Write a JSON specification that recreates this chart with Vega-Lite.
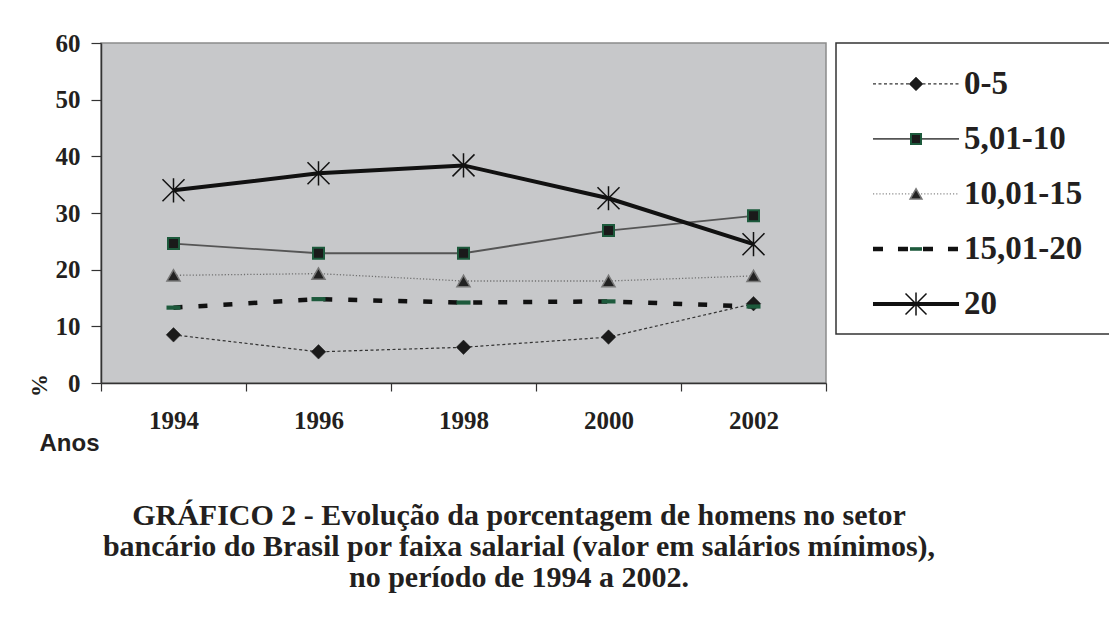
{
  "$schema": "https://vega.github.io/schema/vega-lite/v6.json",
  "background": "white",
  "padding": {"left": 27, "top": 30, "right": 0, "bottom": 0},
  "bounds": "flush",
  "spacing": 10,
  "title": {
    "text": ["GRÁFICO 2 - Evolução da porcentagem de homens no setor", "bancário do Brasil por faixa salarial (valor em salários mínimos),", "no período de 1994 a 2002."],
    "orient": "bottom",
    "anchor": "middle",
    "font": "Liberation Serif",
    "fontSize": 30,
    "fontWeight": "bold",
    "color": "#231f20",
    "lineHeight": 31,
    "offset": 45,
    "dx": -50
  },
  "datasets": {
    "pct": [
      {"series": "0-5", "year": "1994", "value": 8.5},
      {"series": "0-5", "year": "1996", "value": 5.5},
      {"series": "0-5", "year": "1998", "value": 6.3},
      {"series": "0-5", "year": "2000", "value": 8.1},
      {"series": "0-5", "year": "2002", "value": 14.0},
      {"series": "5,01-10", "year": "1994", "value": 24.6},
      {"series": "5,01-10", "year": "1996", "value": 22.9},
      {"series": "5,01-10", "year": "1998", "value": 22.9},
      {"series": "5,01-10", "year": "2000", "value": 26.9},
      {"series": "5,01-10", "year": "2002", "value": 29.5},
      {"series": "10,01-15", "year": "1994", "value": 19.0},
      {"series": "10,01-15", "year": "1996", "value": 19.3},
      {"series": "10,01-15", "year": "1998", "value": 18.0},
      {"series": "10,01-15", "year": "2000", "value": 18.0},
      {"series": "10,01-15", "year": "2002", "value": 18.9},
      {"series": "15,01-20", "year": "1994", "value": 13.3},
      {"series": "15,01-20", "year": "1996", "value": 14.8},
      {"series": "15,01-20", "year": "1998", "value": 14.2},
      {"series": "15,01-20", "year": "2000", "value": 14.4},
      {"series": "15,01-20", "year": "2002", "value": 13.5},
      {"series": "20", "year": "1994", "value": 34.0},
      {"series": "20", "year": "1996", "value": 37.0},
      {"series": "20", "year": "1998", "value": 38.4},
      {"series": "20", "year": "2000", "value": 32.6},
      {"series": "20", "year": "2002", "value": 24.5}
    ],
    "faixas": [
      {"series": "0-5"},
      {"series": "5,01-10"},
      {"series": "10,01-15"},
      {"series": "15,01-20"},
      {"series": "20"}
    ]
  },
  "hconcat": [
    {
      "width": 725,
      "height": 340,
      "view": {"fill": "#c7c8ca", "stroke": "#8c8c8c", "strokeWidth": 1.5},
      "data": {"name": "pct"},
      "encoding": {
        "x": {
          "field": "year", "type": "ordinal", "bandPosition": 0.5,
          "scale": {"type": "band", "paddingInner": 0, "paddingOuter": 0},
          "axis": {
            "title": "Anos", "titleFont": "Liberation Sans", "titleFontSize": 24, "titleFontWeight": "bold", "titleColor": "#231f20",
            "titleX": -2, "titleY": 67, "titleAlign": "right", "titleBaseline": "alphabetic", "titleAnchor": null,
            "tickBand": "extent", "tickSize": 8, "tickColor": "#333333", "tickWidth": 1.2,
            "domainColor": "#333333", "domainWidth": 1.5,
            "labelAngle": 0, "labelFont": "Liberation Serif", "labelFontSize": 25, "labelFontWeight": "bold", "labelColor": "#231f20", "labelPadding": 17
          }
        },
        "y": {
          "field": "value", "type": "quantitative",
          "scale": {"domain": [0, 60], "nice": false, "zero": true},
          "axis": {
            "values": [0, 10, 20, 30, 40, 50, 60], "grid": false,
            "title": "%", "titleFont": "Liberation Serif", "titleFontSize": 23, "titleFontWeight": "bold", "titleColor": "#231f20",
            "titleX": -62, "titleY": 342, "titleAlign": "center", "titleBaseline": "middle", "titleAngle": 270,
            "tickSize": 10, "tickColor": "#333333", "tickWidth": 1.2,
            "domainColor": "#333333", "domainWidth": 1.5,
            "labelFont": "Liberation Serif", "labelFontSize": 25, "labelFontWeight": "bold", "labelColor": "#231f20", "labelPadding": 11
          }
        }
      },
      "layer": [
        {
          "transform": [{"filter": "datum.series === '0-5'"}],
          "mark": {"type": "line", "stroke": "#333333", "strokeWidth": 1.2, "strokeDash": [3, 2.5],
            "point": {"shape": "diamond", "size": 210, "filled": true, "fill": "#1a1a1a", "stroke": "#1a1a1a", "strokeWidth": 0.5}}
        },
        {
          "transform": [{"filter": "datum.series === '5,01-10'"}],
          "mark": {"type": "line", "stroke": "#555555", "strokeWidth": 1.8,
            "point": {"shape": "square", "size": 121, "filled": true, "fill": "#1a1a1a", "stroke": "#1d5a3c", "strokeWidth": 2}}
        },
        {
          "transform": [{"filter": "datum.series === '10,01-15'"}],
          "mark": {"type": "line", "stroke": "#707070", "strokeWidth": 1.3, "strokeDash": [1.2, 2],
            "point": {"shape": "triangle-up", "size": 170, "filled": true, "fill": "#222222", "stroke": "#777777", "strokeWidth": 1.5}}
        },
        {
          "transform": [{"filter": "datum.series === '15,01-20'"}],
          "mark": {"type": "line", "stroke": "#111111", "strokeWidth": 4.5, "strokeDash": [9, 16],
            "point": {"shape": "M-1,-0.3L1,-0.3L1,0.3L-1,0.3Z", "size": 196, "filled": true, "fill": "#1d5a3c", "strokeWidth": 0}}
        },
        {
          "transform": [{"filter": "datum.series === '20'"}],
          "mark": {"type": "line", "stroke": "#111111", "strokeWidth": 4,
            "point": {"shape": "M-1,-1L1,1M-1,1L1,-1M0,-1.1L0,1.1", "size": 484, "filled": false, "fill": "transparent", "stroke": "#111111", "strokeWidth": 1.5}}
        }
      ]
    },
    {
      "width": 274,
      "height": 291,
      "view": {"fill": "white", "stroke": "#333333", "strokeWidth": 1.5},
      "data": {"name": "faixas"},
      "encoding": {
        "y": {
          "field": "series", "type": "ordinal",
          "sort": ["0-5", "5,01-10", "10,01-15", "15,01-20", "20"],
          "scale": {"type": "point", "padding": 0.645, "align": 0.577},
          "axis": null
        }
      },
      "layer": [
        {
          "transform": [{"filter": "datum.series === '0-5'"}],
          "mark": {"type": "rule", "stroke": "#333333", "strokeWidth": 1.2, "strokeDash": [3, 2.5]},
          "encoding": {"x": {"datum": 0.135, "type": "quantitative", "scale": {"domain": [0, 1]}, "axis": null}, "x2": {"datum": 0.449}}
        },
        {
          "transform": [{"filter": "datum.series === '5,01-10'"}],
          "mark": {"type": "rule", "stroke": "#555555", "strokeWidth": 1.8},
          "encoding": {"x": {"datum": 0.135, "type": "quantitative"}, "x2": {"datum": 0.449}}
        },
        {
          "transform": [{"filter": "datum.series === '10,01-15'"}],
          "mark": {"type": "rule", "stroke": "#8a8a8a", "strokeWidth": 1.2, "strokeDash": [1.2, 2]},
          "encoding": {"x": {"datum": 0.135, "type": "quantitative"}, "x2": {"datum": 0.449}}
        },
        {
          "transform": [{"filter": "datum.series === '15,01-20'"}],
          "mark": {"type": "rule", "stroke": "#111111", "strokeWidth": 4.5, "strokeDash": [10, 15]},
          "encoding": {"x": {"datum": 0.135, "type": "quantitative"}, "x2": {"datum": 0.449}}
        },
        {
          "transform": [{"filter": "datum.series === '20'"}],
          "mark": {"type": "rule", "stroke": "#111111", "strokeWidth": 4},
          "encoding": {"x": {"datum": 0.135, "type": "quantitative"}, "x2": {"datum": 0.449}}
        },
        {
          "transform": [{"filter": "datum.series === '0-5'"}],
          "mark": {"type": "point", "shape": "diamond", "size": 190, "filled": true, "fill": "#1a1a1a", "stroke": "#1a1a1a", "strokeWidth": 0.5, "opacity": 1},
          "encoding": {"x": {"datum": 0.292, "type": "quantitative"}}
        },
        {
          "transform": [{"filter": "datum.series === '5,01-10'"}],
          "mark": {"type": "point", "shape": "square", "size": 100, "filled": true, "fill": "#1a1a1a", "stroke": "#1d5a3c", "strokeWidth": 2, "opacity": 1},
          "encoding": {"x": {"datum": 0.292, "type": "quantitative"}}
        },
        {
          "transform": [{"filter": "datum.series === '10,01-15'"}],
          "mark": {"type": "point", "shape": "triangle-up", "size": 140, "filled": true, "fill": "#222222", "stroke": "#777777", "strokeWidth": 1.5, "opacity": 1},
          "encoding": {"x": {"datum": 0.292, "type": "quantitative"}}
        },
        {
          "transform": [{"filter": "datum.series === '15,01-20'"}],
          "mark": {"type": "point", "shape": "M-1,-0.3L1,-0.3L1,0.3L-1,0.3Z", "size": 144, "filled": true, "fill": "#1d5a3c", "strokeWidth": 0, "opacity": 1},
          "encoding": {"x": {"datum": 0.292, "type": "quantitative"}}
        },
        {
          "transform": [{"filter": "datum.series === '20'"}],
          "mark": {"type": "point", "shape": "M-1,-1L1,1M-1,1L1,-1M0,-1.1L0,1.1", "size": 441, "filled": false, "fill": "transparent", "stroke": "#111111", "strokeWidth": 1.5, "opacity": 1},
          "encoding": {"x": {"datum": 0.292, "type": "quantitative"}}
        },
        {
          "mark": {"type": "text", "align": "left", "baseline": "middle", "font": "Liberation Serif", "fontSize": 33, "fontWeight": "bold", "color": "#231f20"},
          "encoding": {"x": {"datum": 0.467, "type": "quantitative"}, "text": {"field": "series"}}
        }
      ]
    }
  ]
}
